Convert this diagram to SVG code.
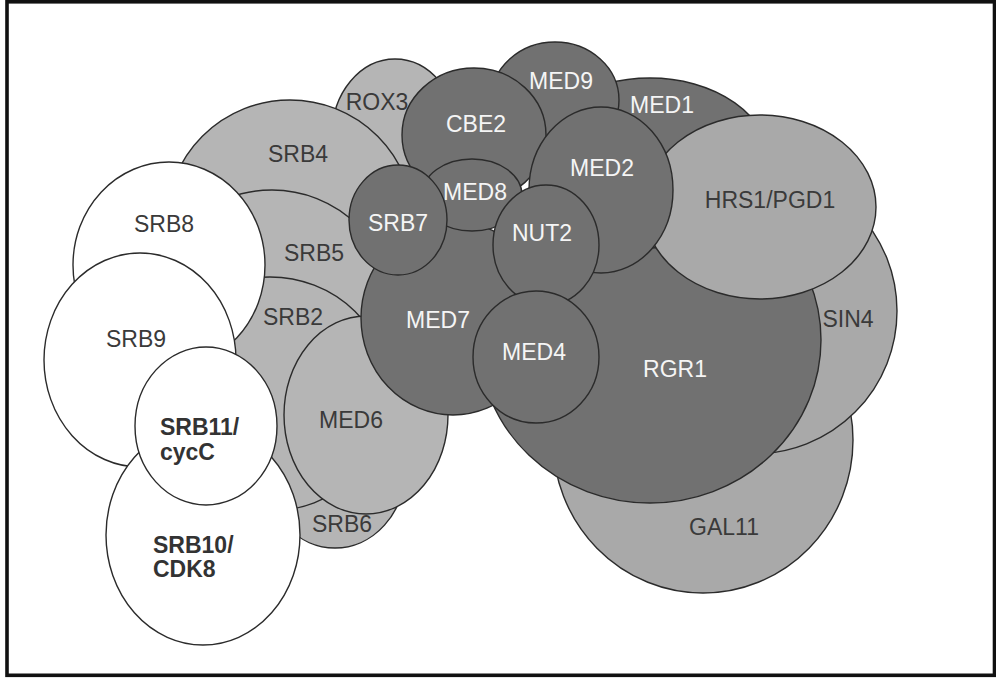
<svg xmlns="http://www.w3.org/2000/svg" width="996" height="678" viewBox="0 0 996 678">
<style>
.s{stroke:#2b2b2b;stroke-width:1.4}
.dk{fill:#717171}
.lt{fill:#a9a9a9}
.lt2{fill:#b5b5b5}
.wh{fill:#ffffff}
text{font-family:"Liberation Sans",Arial,sans-serif;font-size:23px}
.tl{fill:#3a3a3a;text-anchor:middle}
.tw{fill:#f5f5f5;text-anchor:middle}
.tb{fill:#333333;font-weight:bold}
</style>
<rect x="0" y="0" width="996" height="678" fill="#ffffff"/>
<rect x="7" y="1.8" width="987.5" height="673.5" fill="none" stroke="#111" stroke-width="3.6"/>
<g id="connectors"></g>
<g id="GAL11"><ellipse class="s lt" cx="703" cy="440" rx="150" ry="153"/><text class="tl" x="724" y="535">GAL11</text></g>
<g id="SIN4"><circle class="s lt" cx="754" cy="311" r="143"/><text class="tl" x="848" y="327">SIN4</text></g>
<g id="RGR1"><ellipse class="s dk" cx="650" cy="340" rx="171" ry="163"/><text class="tw" x="675" y="377">RGR1</text></g>
<g id="MED1"><ellipse class="s dk" cx="650" cy="163" rx="120" ry="85"/><text class="tw" x="662" y="113">MED1</text></g>
<g id="HRS1"><ellipse class="s lt" cx="760" cy="207" rx="116" ry="92"/><text class="tl" x="770" y="208">HRS1/PGD1</text></g>
<g id="MED9"><ellipse class="s dk" cx="555" cy="100" rx="64" ry="58"/><text class="tw" x="561" y="89">MED9</text></g>
<g id="ROX3"><ellipse class="s lt2" cx="395" cy="135" rx="63" ry="76"/><text class="tl" x="377" y="110">ROX3</text></g>
<g id="SRB4"><circle class="s lt2" cx="290" cy="224" r="124"/><text class="tl" x="298" y="162">SRB4</text></g>
<g id="SRB5"><circle class="s lt2" cx="272" cy="312" r="122"/><text class="tl" x="314" y="261">SRB5</text></g>
<g id="SRB6"><ellipse class="s lt2" cx="335" cy="470" rx="70" ry="78"/><text class="tl" x="342" y="532">SRB6</text></g>
<g id="SRB2"><ellipse class="s lt2" cx="270" cy="394" rx="120" ry="117"/><text class="tl" x="293" y="325">SRB2</text></g>
<g id="MED6"><ellipse class="s lt2" cx="366" cy="415" rx="82" ry="99"/><text class="tl" x="351" y="428">MED6</text></g>
<g id="MED7"><ellipse class="s dk" cx="453" cy="318" rx="92" ry="97"/><text class="tw" x="438" y="328">MED7</text></g>
<g id="CBE2"><ellipse class="s dk" cx="474" cy="135" rx="72" ry="67"/><text class="tw" x="476" y="132">CBE2</text></g>
<g id="MED2"><ellipse class="s dk" cx="601" cy="190" rx="72" ry="83"/><text class="tw" x="602" y="176">MED2</text></g>
<g id="MED8"><ellipse class="s dk" cx="472" cy="195" rx="50" ry="36"/><text class="tw" x="475" y="200">MED8</text></g>
<g id="SRB7"><ellipse class="s dk" cx="398" cy="220" rx="49" ry="55"/><text class="tw" x="398" y="231">SRB7</text></g>
<g id="NUT2"><ellipse class="s dk" cx="546" cy="245" rx="53" ry="60"/><text class="tw" x="542" y="241">NUT2</text></g>
<g id="MED4"><ellipse class="s dk" cx="536" cy="357" rx="63" ry="66"/><text class="tw" x="534" y="360">MED4</text></g>
<g id="SRB8"><ellipse class="s wh" cx="169" cy="265" rx="96" ry="103"/><text class="tl" x="164" y="232">SRB8</text></g>
<g id="SRB9"><ellipse class="s wh" cx="140" cy="360" rx="96" ry="107"/><text class="tl" x="136" y="347">SRB9</text></g>
<g id="SRB10"><ellipse class="s wh" cx="203" cy="535" rx="97" ry="110"/><text class="tb" x="153" y="553">SRB10/</text><text class="tb" x="153" y="577">CDK8</text></g>
<g id="SRB11"><ellipse class="s wh" cx="206" cy="426" rx="71" ry="79"/><text class="tb" x="160" y="435">SRB11/</text><text class="tb" x="160" y="460">cycC</text></g>
</svg>
